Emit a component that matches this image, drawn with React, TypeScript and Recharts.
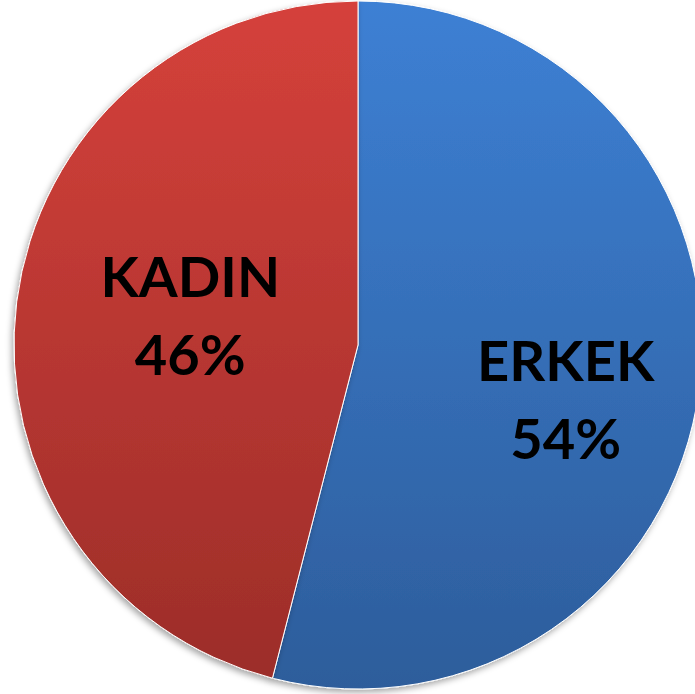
import { Cell, Pie, PieChart } from "recharts";

const categories = ["ERKEK", "KADIN"];
const shares = [54, 46];

const FILLS = ["url(#gradBlue)", "url(#gradRed)"];
// nudges from the default label spot, per slice
const LABEL_NUDGE = [
  { dx: 20, dy: 31 },
  { dx: 20, dy: -5 },
];

const data = categories.map((name, i) => ({ name, value: shares[i] }));

const RAD = Math.PI / 180;

function renderLabel(props: any) {
  const { cx, cy, midAngle, outerRadius, index, name, value } = props;
  const r = outerRadius * 0.55;
  const x = cx + r * Math.cos(-midAngle * RAD) + LABEL_NUDGE[index].dx;
  const y = cy + r * Math.sin(-midAngle * RAD) + LABEL_NUDGE[index].dy;
  return (
    <text
      x={x}
      y={y}
      textAnchor="middle"
      fill="#000"
      style={{ fontFamily: "Lato, 'DejaVu Sans', sans-serif", fontWeight: 700, fontSize: 56 }}
    >
      <tspan x={x} dy={-19}>{name}</tspan>
      <tspan x={x} dy={78}>{`${value}%`}</tspan>
    </text>
  );
}

export default function App() {
  return (
    <div style={{ width: 695, height: 694, background: "#fff" }}>
      <style>{`body{margin:0}`}</style>
      <PieChart width={695} height={694} margin={{ top: 0, right: 0, bottom: 0, left: 0 }}>
        <defs>
          <linearGradient id="gradBlue" x1="0" y1="0" x2="0" y2="1">
            <stop offset="0%" stopColor="#3d80d4" />
            <stop offset="100%" stopColor="#2d5d9b" />
          </linearGradient>
          <linearGradient id="gradRed" x1="0" y1="0" x2="0" y2="1">
            <stop offset="0%" stopColor="#d5413b" />
            <stop offset="100%" stopColor="#9c2d29" />
          </linearGradient>
          <filter id="pieShadow" x="-10%" y="-10%" width="120%" height="120%">
            <feDropShadow dx="-2" dy="3" stdDeviation="3" floodColor="#000" floodOpacity="0.35" />
          </filter>
        </defs>
        <Pie
          data={data}
          dataKey="value"
          nameKey="name"
          cx={358}
          cy={345}
          outerRadius={344}
          startAngle={90}
          endAngle={-270}
          stroke="#ffffff"
          strokeWidth={1}
          label={renderLabel}
          labelLine={false}
          isAnimationActive={false}
          style={{ filter: "url(#pieShadow)" }}
        >
          {data.map((d, i) => (
            <Cell key={d.name} fill={FILLS[i]} />
          ))}
        </Pie>
      </PieChart>
    </div>
  );
}
